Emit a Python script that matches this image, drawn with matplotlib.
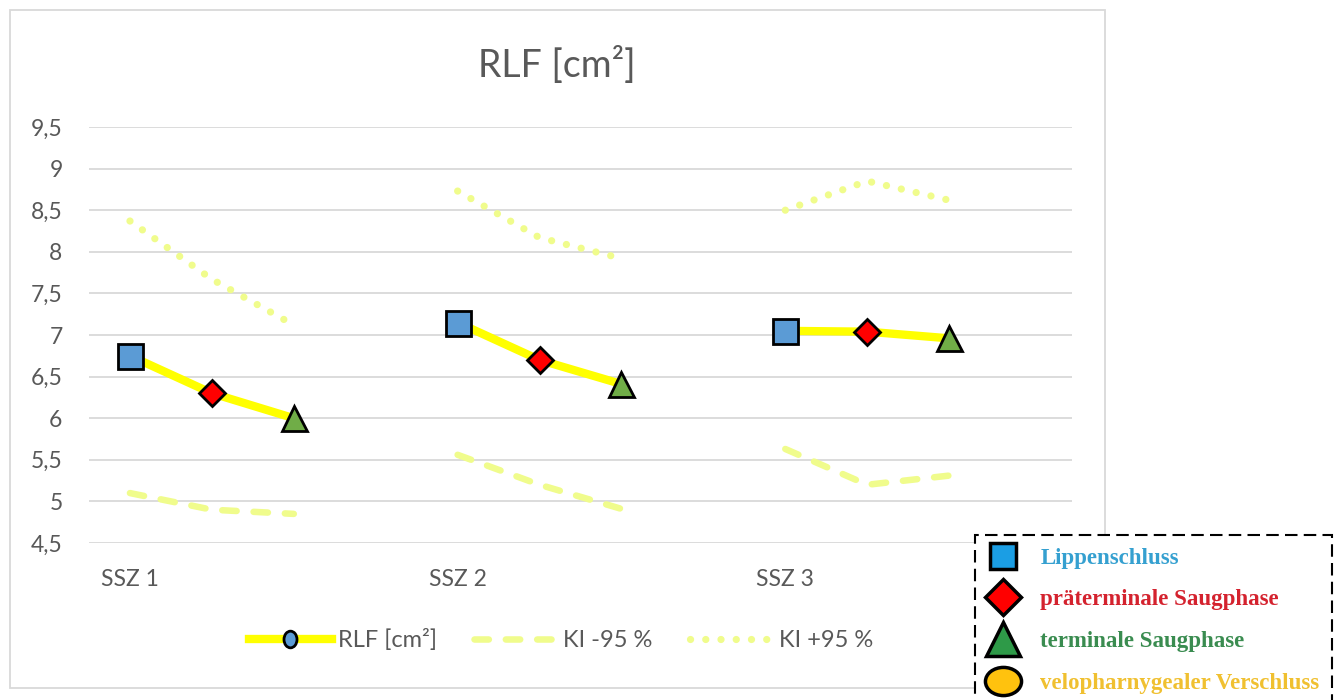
import matplotlib.pyplot as plt
from matplotlib.lines import Line2D
from matplotlib.patches import Rectangle
from matplotlib.path import Path

plt.rcParams['font.family'] = ['Lato', 'DejaVu Sans']

groups = ["SSZ 1", "SSZ 2", "SSZ 3"]
phases = [
    "Lippenschluss",
    "präterminale Saugphase",
    "terminale Saugphase",
    "velopharnygealer Verschluss"
]

# one row per group: Lippenschluss, präterminale, terminale
rlf = [
    [6.75, 6.30, 6.00],
    [7.15, 6.70, 6.41],
    [7.05, 7.04, 6.96]
]
ki_low = [
    [5.10, 4.90, 4.85],
    [5.56, 5.20, 4.91],
    [5.63, 5.20, 5.31]
]
ki_high = [
    [8.37, 7.67, 7.12],
    [8.73, 8.17, 7.92],
    [8.50, 8.85, 8.62]
]

y_ticks = [4.5, 5, 5.5, 6, 6.5, 7, 7.5, 8, 8.5, 9, 9.5]

W, H = 1338, 700
grey = "#595959"
pale = "#f0fc8c"

fig = plt.figure(figsize=(W / 100, H / 100), dpi=100)
ax = fig.add_axes([89 / W, 1 - 543 / H, (1072 - 89) / W, (543 - 127) / H])

# outer chart frame
fig.patches.append(Rectangle((10 / W, 12 / H), 1095 / W, 678 / H,
                             transform=fig.transFigure, fill=False,
                             ec="#d9d9d9", lw=1.3))

point_styles = [
    ("s", 18, "#5b9bd5"),
    ("D", 13, "#ff0000"),
    ("^", 18, "#70ad47"),
]

dashed = (0, (2.2, 2.6))
dotted = (0, (0.01, 2.1))

slot = 4  # three phases plus one empty slot per group
for g in range(len(groups)):
    xs = [g * slot + p for p in range(3)]
    ax.plot(xs, ki_low[g], color=pale, lw=4.7, ls=dashed,
            dash_capstyle="round", zorder=2)
    ax.plot(xs, ki_high[g], color=pale, lw=5.2, ls=dotted,
            dash_capstyle="round", zorder=2)
    ax.plot(xs, rlf[g], color="#ffff00", lw=6, zorder=3)
    for p, (m, ms, fc) in enumerate(point_styles):
        ax.plot(xs[p], rlf[g][p], marker=m, ms=ms, mfc=fc, mec="black",
                mew=2, zorder=4)

ax.set_xlim(-0.5, 3 * slot - 0.5)
ax.set_ylim(4.5, 9.5)
ax.set_yticks(y_ticks, [f"{v:g}".replace(".", ",") for v in y_ticks])
ax.set_xticks([g * slot for g in range(len(groups))], groups)
ax.tick_params(axis="both", length=0, labelsize=16.5, colors=grey)
ax.tick_params(axis="y", pad=19)
ax.tick_params(axis="x", pad=19)
ax.yaxis.grid(True, color="#d9d9d9", lw=1.3)
ax.set_axisbelow(True)
for s in ax.spines.values():
    s.set_visible(False)

fig.text(557 / W, 1 - 65 / H, "RLF [cm²]", ha="center", va="center",
         fontsize=27, color=grey)

# series legend below the plot
oval = Path(Path.unit_circle().vertices * [0.78, 1],
            Path.unit_circle().codes)
series_handles = [
    Line2D([], [], color="#ffff00", lw=6, marker=oval, ms=12,
           mfc="#5b9bd5", mec="black", mew=2),
    Line2D([], [], color=pale, lw=4.7, ls=dashed, dash_capstyle="round"),
    Line2D([], [], color=pale, lw=5.2, ls=dotted, dash_capstyle="round"),
]
ax.legend(series_handles, ["RLF [cm²]", "KI -95 %", "KI +95 %"],
          loc="center", bbox_to_anchor=(561 / W, 1 - 640 / H),
          bbox_transform=fig.transFigure, ncol=3, frameon=False,
          fontsize=17, handlelength=3.5, columnspacing=1.6,
          handletextpad=0.25, labelcolor=grey)

# phase key with dashed frame
ellipse = Path(Path.unit_circle().vertices * [1, 0.78],
               Path.unit_circle().codes)
phase_markers = [
    ("s", 19, "#1b9ee4"),
    ("D", 18, "#ff0000"),
    ("^", 24, "#2e9a48"),
    (ellipse, 26, "#ffc20e"),
]
phase_colors = ["#35a0d0", "#d4222e", "#3a8c50", "#f0c030"]
phase_handles = [
    Line2D([], [], ls="none", marker=m, ms=ms, mfc=fc, mec="black", mew=2.5)
    for m, ms, fc in phase_markers
]
key = fig.legend(phase_handles, phases, loc="upper left",
                 bbox_to_anchor=(975 / W, 1 - 535 / H),
                 prop={"family": ["Liberation Serif"], "weight": "bold",
                       "size": 16.5},
                 frameon=True, fancybox=False, edgecolor="black",
                 framealpha=1, borderaxespad=0, handlelength=1.3,
                 handletextpad=1.0, labelspacing=0.9, borderpad=0.55)
key.get_frame().set_linestyle((0, (6, 3)))
key.get_frame().set_linewidth(1.5)
for t, c in zip(key.get_texts(), phase_colors):
    t.set_color(c)

fig.savefig("out.png", dpi=100)
